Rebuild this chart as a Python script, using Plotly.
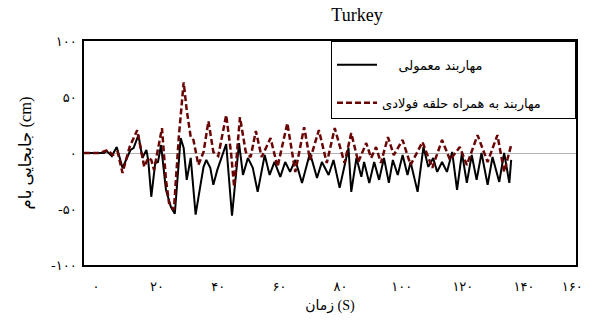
import plotly.graph_objects as go

# Time (s) and roof displacement (cm) — ordinary brace
t_normal = [-3.9, 2.6, 3.5, 5.2, 6.8, 8.7, 11.3, 12.3, 13.9, 15.2, 16.5, 17.1, 18.1, 19.4, 20.3,
            21.3, 22.9, 24.5, 25.8, 27.7, 28.7, 29.7, 31.0, 32.6, 34.2, 35.2, 36.1, 37.4, 38.4,
            39.7, 42.6, 44.5, 46.8, 48.1, 49.7, 51.3, 52.9, 55.2, 56.8, 58.4, 60.3, 61.9, 63.5,
            65.2, 67.4, 70.0, 72.3, 73.9, 76.1, 77.7, 79.7, 82.6, 83.5, 85.2, 86.8, 87.7, 89.4,
            91.0, 92.6, 94.2, 95.8, 97.1, 98.7, 100.3, 101.9, 102.9, 105.2, 107.1, 108.7, 110.3,
            111.6, 113.2, 114.8, 116.5, 118.1, 119.7, 121.3, 122.9, 124.5, 126.1, 128.1, 129.7,
            131.9, 133.5, 135.2, 135.8]
y_normal = [0, 0, 1.8, -2.7, 5.3, -13.3, 2.7, 4.4, 16.0, -4.4, 2.7, -6.2, -39.1, -8.9, -8.0,
            7.1, -32.9, -48.0, -54.2, 13.3, 4.4, -24.0, -4.4, -55.1, -28.4, -12.4, -6.2, -13.3, -28.4,
            -15.1, 8.0, -56.0, 8.9, -19.6, -4.4, -13.3, -34.7, -1.8, -19.6, -8.0, -21.3, -8.0, -16.9,
            -6.2, -26.7, 0.0, -22.2, -8.0, -19.6, -6.2, -31.1, 4.4, -34.7, -4.4, -21.3, -8.0, -26.7,
            -8.0, -24.0, -4.4, -26.7, -6.2, -19.6, -1.8, -19.6, -8.0, -34.7, 5.3, -12.4, -4.4,
            -16.9, -8.0, -16.9, 0.9, -32.9, 0.0, -26.7, -1.8, -24.0, 0.0, -28.4, -3.6,
            -25.8, 0.0, -26.7, -6.2]

# Brace with steel ring
t_ring = [-3.9, 1.3, 3.9, 5.5, 7.1, 8.7, 11.0, 13.5, 15.2, 15.8, 17.1, 18.1, 19.0, 21.6, 22.9,
          23.9, 25.5, 27.1, 28.7, 29.7, 31.0, 31.9, 33.5, 35.2, 36.8, 38.4, 40.0, 42.6, 44.2,
          45.2, 47.1, 49.0, 50.6, 52.3, 54.2, 57.1, 59.4, 62.6, 65.2, 68.1, 70.0, 72.9, 75.5,
          78.1, 81.3, 83.5, 85.8, 88.4, 90.0, 91.6, 93.2, 95.5, 97.4, 100.3, 102.9, 106.8,
          110.0, 113.2, 115.8, 119.0, 121.3, 124.8, 128.1, 131.3, 133.5, 135.8]
y_ring = [0, 0, 2.7, -1.8, 0.9, -17.8, 5.3, 20.4, -3.6, -12.4, -4.4, -6.2, -15.1, 22.2, -24.0,
          -44.4, -50.7, 14.2, 63.1, 38.2, 14.2, 11.6, -10.7, 0.9, 28.4, 0.9, -2.7, 33.8, 0.0,
          -30.2, 32.0, 0.9, -3.6, 19.6, -3.6, 13.3, -12.4, 26.7, -16.9, 23.1, -6.2, 20.4, -8.9,
          22.2, -8.9, 17.8, -8.0, 8.9, -4.4, 5.3, -8.9, 14.2, -1.8, 11.6, -10.7, 9.8,
          -13.3, 11.6, -6.2, 5.3, -10.7, 16.0, -8.0, 16.0, -16.9, 7.1]

x_tickvals = [0, 20, 40, 60, 80, 100, 120, 140, 155.8]
x_ticktext = ["۰", "۲۰", "۴۰", "۶۰", "۸۰", "۱۰۰", "۱۲۰", "۱۴۰", "۱۶۰"]
y_tickvals = [-100, -50, 0, 50, 100]
y_ticktext = ["-۱۰۰", "-۵۰", "۰", "۵۰", "۱۰۰"]

NB = "\u00a0"
name_normal = NB * 4 + "مهاربند معمولی"
name_ring = "مهاربند به همراه حلقه فولادی"

fig = go.Figure()
fig.add_trace(go.Scatter(x=t_normal, y=y_normal, mode="lines", name=name_normal,
                         legendgroup="a", line=dict(color="black", width=2)))
fig.add_trace(go.Scatter(x=t_ring, y=y_ring, mode="lines", name=name_ring,
                         legendgroup="b", line=dict(color="#6a0505", width=2.5, dash="6px,3px")))

fig.update_layout(
    width=594, height=323,
    margin=dict(l=84, r=11, t=41, b=58),
    paper_bgcolor="white", plot_bgcolor="white",
    title=dict(text="Turkey", x=0.601, xref="container", xanchor="center",
               y=0.955, yref="container", yanchor="middle",
               font=dict(family="Liberation Serif", size=18, color="black")),
    font=dict(family="DejaVu Sans", color="black"),
    legend=dict(x=1, y=1, xanchor="right", yanchor="top", bgcolor="white",
                bordercolor="black", borderwidth=1, itemwidth=40, tracegroupgap=18,
                title=dict(text=NB * 125, font=dict(size=6)),
                font=dict(family="DejaVu Sans", size=13, color="black")),
    showlegend=True,
)
fig.update_xaxes(range=[-3.9, 157], tickvals=x_tickvals, ticktext=x_ticktext,
                 showgrid=False, zeroline=False, showline=True, mirror=True,
                 linecolor="black", linewidth=1.5, ticks="", ticklabelstandoff=9,
                 tickfont=dict(family="DejaVu Sans", size=13),
                 title=dict(text="زمان (S)", standoff=7,
                            font=dict(family="Liberation Serif, DejaVu Sans", size=14)))
fig.update_yaxes(range=[-100, 100], tickvals=y_tickvals, ticktext=y_ticktext,
                 showgrid=False, zeroline=True, zerolinecolor="#b4b4b4", zerolinewidth=1,
                 showline=True, mirror=True, linecolor="black", linewidth=1.5, ticks="",
                 ticklabelstandoff=3, tickfont=dict(family="DejaVu Sans", size=13),
                 title=dict(text="جابجایی بام (cm)", standoff=15,
                            font=dict(family="Liberation Serif, DejaVu Sans", size=16.5)))

fig.write_html("out.html")
